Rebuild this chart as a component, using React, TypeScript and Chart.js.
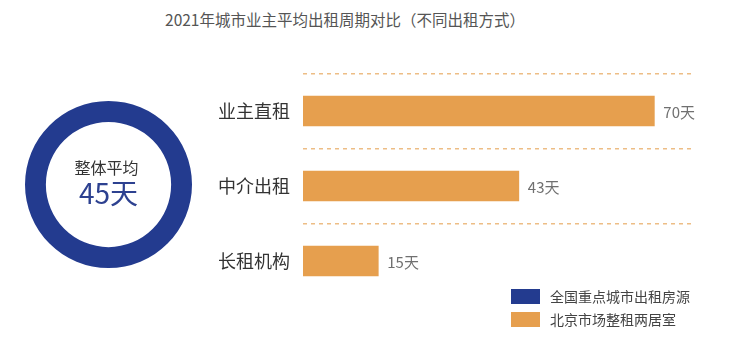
import React, { useEffect, useRef } from "react";
import { Chart, registerables } from "chart.js";

Chart.register(...registerables);

const titleText = "2021年城市业主平均出租周期对比（不同出租方式）";
const categories = ["业主直租", "中介出租", "长租机构"];
const rentalDays = [70, 43, 15];
const avgLabel = "整体平均";
const avgDays = [45];
const unit = "天";
const legendLabels = ["全国重点城市出租房源", "北京市场整租两居室"];
const xMax = 77.3;

const BLUE = "#233b8f";
const ORANGE = "#e69f4e";
const DASH = "#edbd85";
const FONT = "'Noto Sans CJK SC', 'Noto Sans', sans-serif";

export default function App() {
  const barRef = useRef<HTMLCanvasElement>(null);
  const donutRef = useRef<HTMLCanvasElement>(null);

  useEffect(() => {
    document.body.style.margin = "0";
    const valueLabels = {
      id: "valueLabels",
      afterDatasetsDraw(chart: any) {
        const ctx = chart.ctx;
        const meta = chart.getDatasetMeta(0);
        ctx.save();
        ctx.font = `15px ${FONT}`;
        ctx.fillStyle = "#707070";
        ctx.textAlign = "left";
        ctx.textBaseline = "middle";
        meta.data.forEach((bar: any, i: number) => {
          ctx.fillText(rentalDays[i] + unit, bar.x + 9, bar.y + 1);
        });
        ctx.restore();
      },
    };
    const bar = new Chart(barRef.current!, {
      type: "bar",
      data: {
        labels: categories,
        datasets: [
          {
            label: legendLabels[1],
            data: rentalDays,
            backgroundColor: ORANGE,
            borderWidth: 0,
            barThickness: 30,
          },
        ],
      },
      options: {
        indexAxis: "y",
        animation: false,
        responsive: false,
        maintainAspectRatio: false,
        layout: { padding: { left: 0, right: 45, top: 73.5, bottom: 52.5 } },
        plugins: { legend: { display: false }, tooltip: { enabled: false } },
        scales: {
          x: { display: false, min: 0, max: xMax },
          y: {
            afterFit: (s: any) => {
              s.width = 303;
            },
            border: { display: false, dash: [4, 4] },
            grid: {
              offset: true,
              drawTicks: false,
              lineWidth: 1.5,
              color: (c: any) => (typeof c.index === "number" ? DASH : "rgba(0,0,0,0)"),
            },
            ticks: {
              padding: 13,
              color: "#333",
              font: { size: 18, family: FONT },
            },
          },
        },
      },
      plugins: [valueLabels],
    });

    const centerText = {
      id: "centerText",
      afterDraw(chart: any) {
        const { ctx, chartArea } = chart;
        const cx = (chartArea.left + chartArea.right) / 2;
        const cy = (chartArea.top + chartArea.bottom) / 2;
        ctx.save();
        ctx.textAlign = "center";
        ctx.textBaseline = "middle";
        ctx.fillStyle = "#333";
        ctx.font = `16px ${FONT}`;
        ctx.fillText(avgLabel, cx - 2, cy - 17);
        ctx.fillStyle = "#2d4190";
        ctx.font = `28px ${FONT}`;
        ctx.fillText(avgDays[0] + unit, cx, cy + 9);
        ctx.restore();
      },
    };
    const donut = new Chart(donutRef.current!, {
      type: "doughnut",
      data: {
        labels: [legendLabels[0]],
        datasets: [{ data: avgDays, backgroundColor: BLUE, borderWidth: 0 }],
      },
      options: {
        animation: false,
        responsive: false,
        maintainAspectRatio: false,
        cutout: "75%",
        layout: { padding: 0 },
        plugins: { legend: { display: false }, tooltip: { enabled: false } },
      },
      plugins: [centerText],
    });
    return () => {
      bar.destroy();
      donut.destroy();
    };
  }, []);

  return (
    <div style={{ position: "absolute", left: 0, top: 0, width: 736, height: 351, background: "#fff", fontFamily: FONT }}>
      <div
        style={{
          position: "absolute",
          left: 0,
          top: 9,
          width: 690,
          textAlign: "center",
          fontSize: 15.5,
          lineHeight: "20px",
          color: "#555",
        }}
      >
        {titleText}
      </div>
      <canvas ref={barRef} width={736} height={351} style={{ position: "absolute", left: 0, top: 0, width: 736, height: 351 }} />
      <canvas ref={donutRef} width={167} height={167} style={{ position: "absolute", left: 25, top: 101, width: 167, height: 167 }} />
      {legendLabels.map((t, i) => (
        <div key={t} style={{ position: "absolute", left: 511, top: 289 + i * 22.7, height: 15, display: "flex", alignItems: "center" }}>
          <div style={{ width: 29, height: 15, background: i === 0 ? BLUE : ORANGE }} />
          <span style={{ marginLeft: 10, fontSize: 14, color: "#444", lineHeight: "15px", whiteSpace: "nowrap" }}>{t}</span>
        </div>
      ))}
    </div>
  );
}
